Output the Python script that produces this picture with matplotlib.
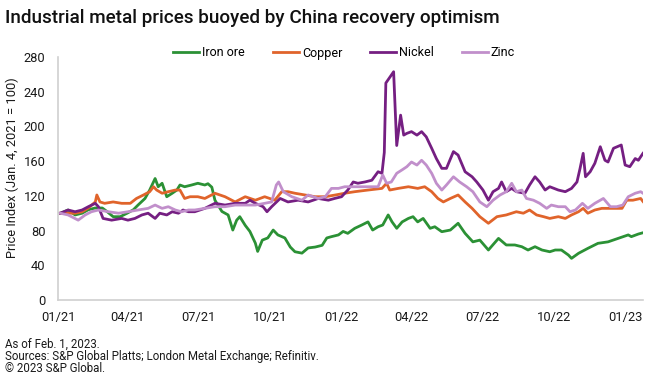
import matplotlib
matplotlib.use("Agg")
import matplotlib.pyplot as plt
import matplotlib.dates as mdates
import pandas as pd

BASE = "2021-01-01"

iron_days = [3,13,22,31,39,48,57,63,71,80,
             89,97,103,112,118,125,129,134,140,147,
             153,157,163,172,180,189,193,198,202,211,
             219,225,230,234,241,247,254,257,263,270,
             277,283,292,299,305,314,322,331,340,346,
             352,361,367,373,382,391,399,405,412,418,
             425,430,436,443,451,457,463,470,479,485,
             494,505,515,524,534,543,554,567,577,588,
             597,605,614,623,633,640,648,657,661,670,
             682,695,708,721,734,738,747,753]
iron_vals = [100,103.7,98,100,104,106,106,102,96,96,
             100,104,109.4,117,126.7,140,130.5,134.5,119,123,
             126.7,132.5,130.5,132.5,134.5,132.5,134,130,115,102,
             98,80.6,92,96,86,79,65.6,56,69,71.5,
             80.6,75,71.5,61,55.6,54,60,61,63,71.5,
             73,75,79,76.8,82.6,86.4,90,80.6,84.4,86.4,
             98,90,82.6,90,94,96,90,94,82.6,84.4,
             78.7,80.6,88.4,76.8,67,69,57.6,71,63.4,63.4,
             61.4,57.6,61.4,57.6,55.6,57.6,57.6,51.8,48,53.8,
             59.5,65.3,67,71,75,73,76,77.5]

copper_days = [3,9,22,31,39,48,50,54,60,71,
               82,93,101,110,118,123,127,134,142,151,
               157,163,170,180,189,202,215,228,241,254,
               266,279,288,296,305,318,331,344,357,369,
               382,399,417,423,427,438,451,463,472,481,
               489,496,505,515,524,533,543,554,565,577,
               590,599,607,616,625,633,644,653,661,670,
               676,682,691,700,713,726,732,740,750,753]
copper_vals = [100,100,100,101.7,106,113,121,113,111.4,113,
               111.4,111.4,117,121,124.8,130.5,126.7,123,124.8,126.7,
               126.7,117,119,119,117,123,119,113,119,115,
               119,115,124.8,124.8,123,121,119,119,121,123,
               124.8,126.7,128.6,134.5,126.7,128.6,130.5,128.6,130.5,124.8,
               117,113,117,121,113,105.6,96,88.4,96,98,
               101.7,100,103.7,98,96,94,96,94,98,101.7,
               105.6,100,103.7,105.6,105.6,105.6,115,115,117,113.5]

nickel_days = [3,13,22,31,39,48,52,58,69,82,
               90,99,108,116,125,131,140,147,155,161,
               168,176,189,202,215,228,241,247,254,264,
               269,275,286,296,309,322,335,348,356,365,
               373,380,386,395,404,412,417,420,422,432,
               436,441,445,449,455,462,468,474,481,487,
               494,500,509,515,524,533,539,547,554,560,
               567,571,577,584,590,601,607,614,620,627,
               633,644,653,661,668,672,676,679,685,691,
               698,704,708,715,725,730,736,743,747,753]
nickel_vals = [100,103.7,101.7,103.7,107.5,111.4,107.5,94,92,94,
               92,94,98,100,94,100,98,101.7,100,103.7,
               101.7,101.7,105.6,111.4,109.4,111.4,111.4,115,111.4,107.5,
               101.7,107.5,117,113,115,113,117,115,117,119,
               126.7,136,134.5,136,138,147.8,146,170,250,263,
               178,213,190,192,194,190,194,188,174.8,163,
               151.7,151.7,171,167,147.8,142,136,126.7,115,124.8,
               128.6,136,124.8,128.6,124.8,123,132.5,142,136,126.7,
               130.5,126.7,124.8,128.6,136,151.7,169,142,147.8,157.5,
               176.6,161,159,174.8,178.6,155.5,153.6,163,161,169]

zinc_days = [3,13,26,35,43,52,65,78,90,103,
             116,125,134,142,151,159,168,176,189,202,
             215,228,241,254,266,275,281,284,290,301,
             314,322,335,344,352,361,369,382,395,412,
             418,423,429,436,443,449,455,462,468,474,
             481,487,494,500,509,517,526,534,543,552,
             560,569,577,584,590,597,603,612,620,629,
             635,644,653,659,666,675,682,691,702,711,
             719,727,734,743,750,753]
zinc_vals = [100,98,92,98,101.7,103.7,101.7,100,101.7,103.7,
             105.6,109.4,105.6,107.5,103.7,101.7,103.7,103.7,105.6,107.5,
             107.5,109.4,109.4,109.4,111.4,113,132.5,136,124.8,119,
             115,121,117,119,128.6,128.6,130.5,130.5,130.5,130.5,
             144,134.5,136,146,150,153.6,159,155.5,161,155.5,
             146,134.5,126.7,132.5,142,136,130.5,124.8,113,107.5,
             115,121,124.8,134.5,124.8,126.7,117,115,111.4,105.6,
             109.4,107.5,107.5,101.7,103.7,111.4,105.6,111.4,117,107.5,
             107.5,109.4,119,123,124.8,123]

series_names = ["Iron ore", "Copper", "Nickel", "Zinc"]
series_colors = ["#2b9135", "#e0642b", "#751f82", "#c18fcb"]
y_ticks = [0, 40, 80, 120, 160, 200, 240, 280]
x_tick_dates = ["2021-01-01", "2021-04-01", "2021-07-01", "2021-10-01",
                "2022-01-01", "2022-04-01", "2022-07-01", "2022-10-01",
                "2023-01-01"]
x_end_day = 753

plt.rcParams["font.family"] = ["Roboto", "DejaVu Sans"]

base = pd.Timestamp(BASE)
def to_dates(days):
    return base + pd.to_timedelta(days, unit="D")

fig = plt.figure(figsize=(6.6, 3.86), dpi=100)
ax = fig.add_axes([58/660, 1-300/386, (643-58)/660, (300-57)/386])

all_days = [iron_days, copper_days, nickel_days, zinc_days]
all_vals = [iron_vals, copper_vals, nickel_vals, zinc_vals]
for name, col, d, v in zip(series_names, series_colors, all_days, all_vals):
    ax.plot(to_dates(d), v, color=col, lw=2.0, label=name, solid_joinstyle="round")

ax.set_ylim(0, 280)
ax.set_yticks(y_ticks)
ax.set_xlim(base, base + pd.Timedelta(days=x_end_day))
ax.set_xticks(pd.to_datetime(x_tick_dates))
ax.xaxis.set_major_formatter(mdates.DateFormatter("%m/%y"))
ax.tick_params(axis="both", length=0, labelsize=9.3, colors="#1a1a1a")
ax.tick_params(axis="y", pad=9)
ax.tick_params(axis="x", pad=8)
for s in ["top", "right"]:
    ax.spines[s].set_visible(False)
for s in ["left", "bottom"]:
    ax.spines[s].set_color("#d0d0d0")
    ax.spines[s].set_linewidth(1.2)

ax.set_ylabel("Price Index (Jan. 4, 2021 = 100)", fontsize=9.3, color="#1a1a1a")
ax.yaxis.set_label_coords(-0.066, 0.543)

fig.text(5/660, 1-18/386, "Industrial metal prices buoyed by China recovery optimism",
         fontsize=13.6, fontweight="medium", ha="left", va="center", color="#111111")

fig.legend(loc="center", bbox_to_anchor=(344/660, 1-53/386), ncol=4, frameon=False,
           fontsize=9, handlelength=2.1, handletextpad=0.25, columnspacing=2.2)

notes = ["As of Feb. 1, 2023.",
         "Sources: S&P Global Platts; London Metal Exchange; Refinitiv.",
         "\u00a9 2023 S&P Global."]
for i, t in enumerate(notes):
    fig.text(5/660, 1-(344+12.5*i)/386, t, fontsize=8.3, ha="left", va="center", color="#1a1a1a")

fig.savefig("out.png", dpi=100)
